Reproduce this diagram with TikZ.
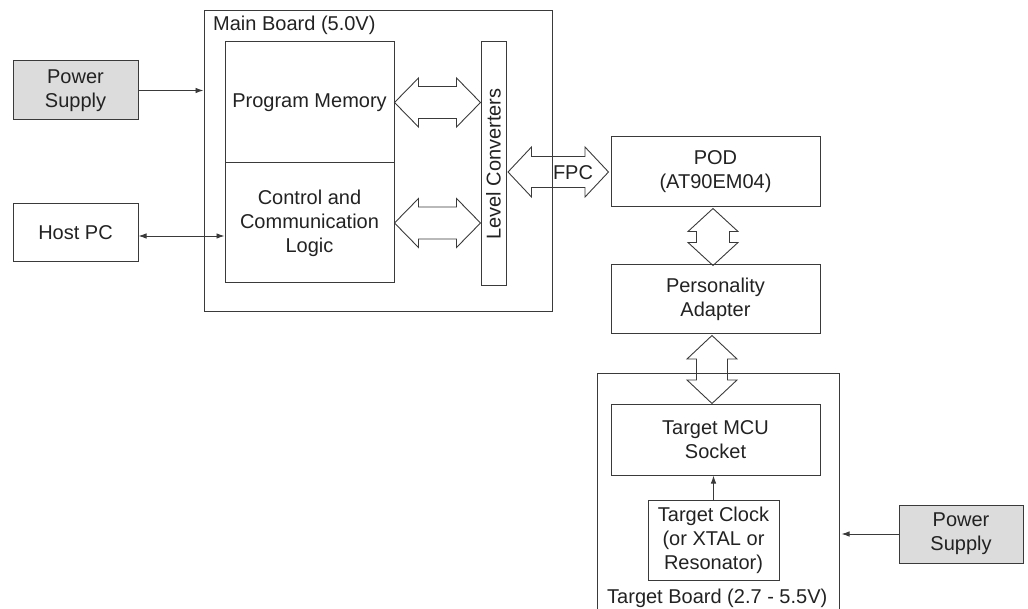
\documentclass[tikz,border=0pt]{standalone}
\usepackage{fontspec}
\setmainfont{Liberation Sans}
\usetikzlibrary{calc,arrows.meta}
\definecolor{linec}{HTML}{3A3A3A}
\definecolor{textc}{HTML}{222222}
\definecolor{psfill}{HTML}{DCDCDC}
\newcommand\HBA[5]{%
  \draw[bigarrow] let \p1=(#1), \p2=(#2) in
  (\x1,\y1) -- (\x1+#3pt,\y1+#4pt) -- (\x1+#3pt,\y1+#5pt) -- (\x2-#3pt,\y1+#5pt) -- (\x2-#3pt,\y1+#4pt)
  -- (\x2,\y1) -- (\x2-#3pt,\y1-#4pt) -- (\x2-#3pt,\y1-#5pt) -- (\x1+#3pt,\y1-#5pt) -- (\x1+#3pt,\y1-#4pt) -- cycle;}
\newcommand\VBA[5]{%
  \draw[bigarrow] let \p1=(#1), \p2=(#2) in
  (\x1,\y1) -- (\x1+#4pt,\y1-#3pt) -- (\x1+#5pt,\y1-#3pt) -- (\x1+#5pt,\y2+#3pt) -- (\x1+#4pt,\y2+#3pt)
  -- (\x1,\y2) -- (\x1-#4pt,\y2+#3pt) -- (\x1-#5pt,\y2+#3pt) -- (\x1-#5pt,\y1-#3pt) -- (\x1-#4pt,\y1-#3pt) -- cycle;}
\begin{document}
\begin{tikzpicture}[x=1pt,y=-1pt,
  font=\fontsize{20}{24}\selectfont,
  box/.style={draw=linec,line width=1pt,rectangle,inner sep=0pt,align=center,text=textc},
  psbox/.style={box,fill=psfill},
  bigarrow/.style={draw=linec,line width=0.9pt,line join=miter},
  conn/.style={draw=linec,line width=0.9pt},
  tip/.style={-{Latex[length=8pt,width=5.5pt]}},
  dtip/.style={{Latex[length=8pt,width=5.5pt]}-{Latex[length=8pt,width=5.5pt]}},
  lbl/.style={text=textc,inner sep=0pt}]
\useasboundingbox (0,0) rectangle (1028,609);
% boards
\node[box,minimum width=348pt,minimum height=301pt] (MB) at (378,161.5) {};
\node[box,minimum width=242pt,minimum height=280pt] (TB) at (718,514) {};
\node[lbl,anchor=base west] (MBl) at (213,31) {Main Board (5.0V)};
\node[lbl,anchor=base west] (TBl) at (607,603) {Target Board (2.7 - 5.5V)};
% blocks
\node[psbox,minimum width=125pt,minimum height=59pt] (PS1) at (75.5,90.5) {Power\\Supply};
\node[box,minimum width=125pt,minimum height=58pt] (HP) at (75.5,233) {Host PC};
\node[box,minimum width=169pt,minimum height=121pt] (PM) at (309.5,102.5) {Program Memory};
\node[box,minimum width=169pt,minimum height=120pt] (CL) at (309.5,223) {Control and\\Communication\\Logic};
\node[box,minimum width=25pt,minimum height=244pt] (LC) at (493.5,164) {};
\node[lbl,rotate=90] (LCl) at (LC.center) {Level Converters};
\node[box,minimum width=209pt,minimum height=70pt] (POD) at (715.5,172) {POD\\(AT90EM04)};
\node[box,minimum width=209pt,minimum height=69pt] (PA) at (715.5,299.5) {Personality\\Adapter};
\node[box,minimum width=209pt,minimum height=70pt] (MCU) at (715.5,440) {Target MCU\\Socket};
\node[box,minimum width=131pt,minimum height=80pt] (CLK) at (713.5,540) {Target Clock\\(or XTAL or\\Resonator)};
\node[psbox,minimum width=124pt,minimum height=58pt] (PS2) at (961,534) {Power\\Supply};
% thin connectors
\draw[conn,tip] (PS1.east) -- (PS1.east -| MB.west);
\draw[conn,dtip] ([yshift=-3pt]HP.east) -- ([yshift=-3pt]HP.east -| CL.west);
\draw[conn,tip] (CLK.north) -- (CLK.north |- MCU.south);
\draw[conn,tip] (PS2.west) -- ([xshift=2pt]PS2.west -| TB.east);
% block arrows
\HBA{PM.east}{PM.east -| LC.west}{24}{24.5}{16}
\HBA{CL.east}{CL.east -| LC.west}{24}{24.5}{16}
\HBA{[xshift=1.5pt]POD.west -| LC.east}{[xshift=-2pt]POD.west}{23.5}{25}{15.5}
\node[lbl] (FPC) at (573,173) {FPC};
\VBA{[xshift=-2.5pt,yshift=-1pt]POD.south}{[xshift=-2.5pt,yshift=-1pt]PA.north}{23}{25}{16.5}
\VBA{[xshift=-3.5pt,yshift=-1pt]PA.south}{[xshift=-3.5pt,yshift=1pt]MCU.north}{23.5}{25}{15.5}
\end{tikzpicture}
\end{document}
